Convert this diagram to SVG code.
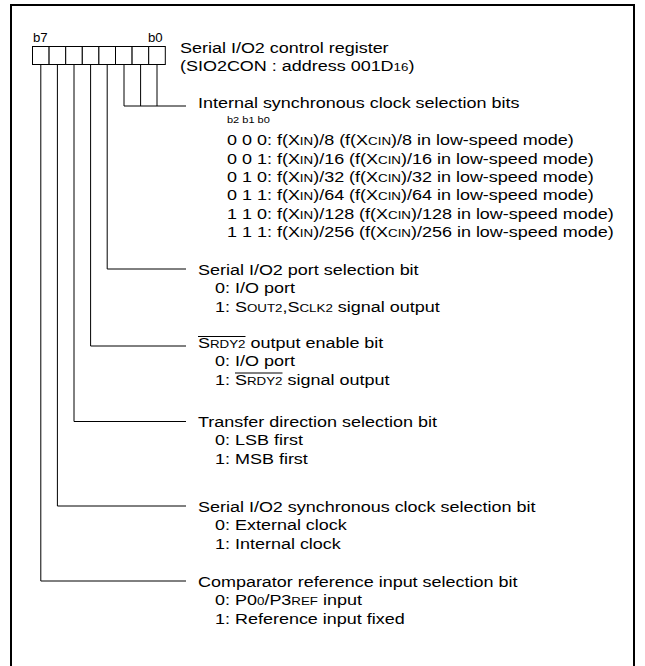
<svg xmlns="http://www.w3.org/2000/svg" width="645" height="666" viewBox="0 0 645 666">
<style>
text{font-family:"Liberation Sans",Arial,sans-serif;font-size:15.5px;fill:#000}
.s{font-size:11.5px}
.lbl{font-size:12px}
.ln{stroke:#000;stroke-width:1;fill:none}
.cell{stroke:#000;stroke-width:1;fill:#fff}
.ov{stroke:#000;stroke-width:1}
</style>
<rect x="11" y="5" width="623" height="700" fill="#fff" stroke="#000" stroke-width="2"/>
<g id="register">
<rect class="cell" x="32.5" y="46.5" width="16.6" height="18"/>
<rect class="cell" x="49.1" y="46.5" width="16.6" height="18"/>
<rect class="cell" x="65.7" y="46.5" width="16.6" height="18"/>
<rect class="cell" x="82.3" y="46.5" width="16.6" height="18"/>
<rect class="cell" x="98.9" y="46.5" width="16.6" height="18"/>
<rect class="cell" x="115.5" y="46.5" width="16.6" height="18"/>
<rect class="cell" x="132.1" y="46.5" width="16.6" height="18"/>
<rect class="cell" x="148.7" y="46.5" width="16.6" height="18"/>
<g transform="translate(33 42) scale(1.1 1)"><text class="lbl" x="0" y="0">b7</text></g>
<g transform="translate(148 42) scale(1.1 1)"><text class="lbl" x="0" y="0">b0</text></g>
<g transform="translate(180 0) scale(1.16 1)">
<text x="0" y="53.5">Serial I/O2 control register</text>
<text x="0" y="71">(SIO2CON : address 001D<tspan class="s">16</tspan>)</text>
</g>
</g>
<g id="connectors">
<path class="ln" d="M124 64.5V106M140.6 64.5V106M157 64.5V106M124 106H186"/>
<path class="ln" d="M107.2 64.5V269H186"/>
<path class="ln" d="M90.6 64.5V346H186"/>
<path class="ln" d="M74 64.5V421.5H186"/>
<path class="ln" d="M57.4 64.5V506H186"/>
<path class="ln" d="M40.8 64.5V581H186"/>
</g>
<g id="bits210" transform="translate(198 0) scale(1.16 1)">
<text x="0" y="108">Internal synchronous clock selection bits</text>
<text x="25" y="123.5" style="font-size:9.5px">b2 b1 b0</text>
<text x="25" y="145.5">0 0 0: f(X<tspan class="s">IN</tspan>)/8 (f(X<tspan class="s">CIN</tspan>)/8 in low-speed mode)</text>
<text x="25" y="163.8">0 0 1: f(X<tspan class="s">IN</tspan>)/16 (f(X<tspan class="s">CIN</tspan>)/16 in low-speed mode)</text>
<text x="25" y="182.1">0 1 0: f(X<tspan class="s">IN</tspan>)/32 (f(X<tspan class="s">CIN</tspan>)/32 in low-speed mode)</text>
<text x="25" y="200.4">0 1 1: f(X<tspan class="s">IN</tspan>)/64 (f(X<tspan class="s">CIN</tspan>)/64 in low-speed mode)</text>
<text x="25" y="218.7">1 1 0: f(X<tspan class="s">IN</tspan>)/128 (f(X<tspan class="s">CIN</tspan>)/128 in low-speed mode)</text>
<text x="25" y="237">1 1 1: f(X<tspan class="s">IN</tspan>)/256 (f(X<tspan class="s">CIN</tspan>)/256 in low-speed mode)</text>
</g>
<g id="bit3" transform="translate(198 0) scale(1.16 1)">
<text x="0" y="275">Serial I/O2 port selection bit</text>
<text x="14.7" y="293.3">0: I/O port</text>
<text x="14.7" y="311.6">1: S<tspan class="s">OUT2</tspan>,S<tspan class="s">CLK2</tspan> signal output</text>
</g>
<g id="bit4">
<g transform="translate(198 0) scale(1.16 1)">
<text x="0" y="348">S<tspan class="s">RDY2</tspan> output enable bit</text>
<text x="14.7" y="366.3">0: I/O port</text>
<text x="14.7" y="384.6">1: S<tspan class="s">RDY2</tspan> signal output</text>
</g>
<path class="ov" d="M198 336.5H245.5M235 373H282.5"/>
</g>
<g id="bit5" transform="translate(198 0) scale(1.16 1)">
<text x="0" y="427">Transfer direction selection bit</text>
<text x="14.7" y="445.3">0: LSB first</text>
<text x="14.7" y="463.6">1: MSB first</text>
</g>
<g id="bit6" transform="translate(198 0) scale(1.16 1)">
<text x="0" y="512">Serial I/O2 synchronous clock selection bit</text>
<text x="14.7" y="530.5">0: External clock</text>
<text x="14.7" y="549">1: Internal clock</text>
</g>
<g id="bit7" transform="translate(198 0) scale(1.16 1)">
<text x="0" y="587">Comparator reference input selection bit</text>
<text x="14.7" y="605.5">0: P0<tspan class="s">0</tspan>/P3<tspan class="s">REF</tspan> input</text>
<text x="14.7" y="624">1: Reference input fixed</text>
</g>
</svg>
